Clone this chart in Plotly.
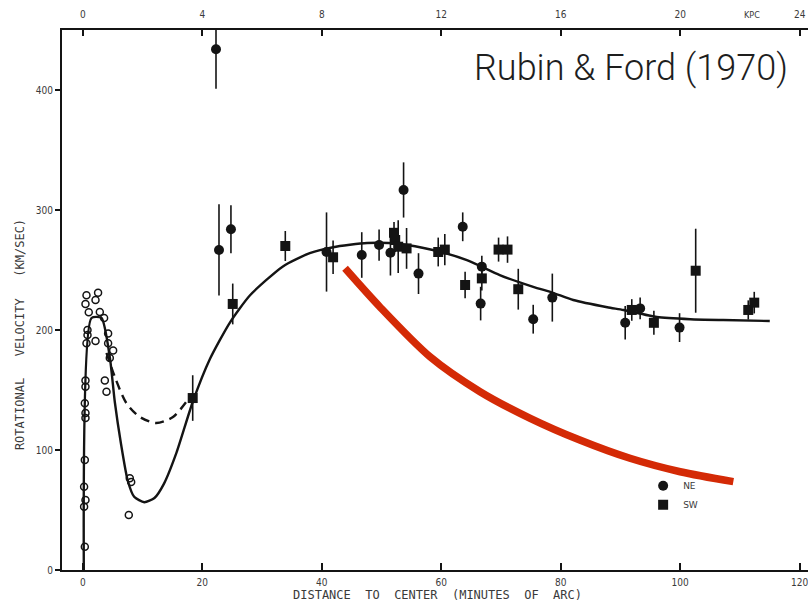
import plotly.graph_objects as go

# ---------------- data ----------------
# solid model curve (arcmin, km/s)
curve_x = [0.17, 1.46, 3.13, 4.52, 5.36, 6.4, 7.5, 8.6, 10.3, 12.0, 13.6, 15.7,
           18.4, 21.3, 24.6, 28.0, 33.5, 38.0, 41.9, 47.6, 53.1, 58.6,
           64.3, 69.8, 75.4, 78.7, 82.1, 87.8, 90.5, 96.1, 101.7, 107.2, 115.0]
curve_v = [0, 210, 210, 177.5, 140, 105, 75, 61, 56.5, 60, 72, 98,
           140, 176, 206, 229, 253, 264, 269, 272.5, 271.7, 266.7,
           258.3, 245.8, 236, 231, 225, 219, 216.7, 210.8, 209, 208.3, 207.5]

# dashed alternative curve
dash_x = [3.97, 5.36, 7.3, 9.55, 12.3, 15.1, 17.9]
dash_v = [181, 161, 139, 127.5, 122.5, 127.5, 144]

# red (Keplerian-like expectation) curve
red_x = [43.9, 49.7, 58.1, 66.5, 74.9, 83.2, 91.6, 100.0, 108.9]
red_v = [251.4, 219.4, 177.8, 148.6, 126.4, 108.3, 93.1, 81.9, 73.6]

# open circles (emission from nucleus region)
open_x = [0.62, 2.56, 2.13, 0.45, 1.0, 3.57, 2.85, 0.79, 0.62, 2.13, 0.79, 4.24,
          4.24, 5.08, 4.52, 0.45, 0.45, 3.69, 3.97, 0.34, 0.45, 0.45, 0.34, 0.22,
          0.45, 0.22, 0.34, 7.87, 8.1, 7.7]
open_v = [229, 231, 225, 221.7, 214.7, 210, 215, 200, 189, 190.8, 195.8, 197,
          189, 183, 176.7, 158, 152.8, 158, 148.6, 139, 130.8, 126.7, 91.7, 69.4,
          58.3, 52.8, 19.4, 76.4, 73.3, 45.8]

# NE (filled circles)
ne_x = [22.3, 22.8, 24.8, 40.8, 46.7, 49.6, 51.5, 53.7, 56.2, 63.6, 66.8, 66.6,
        75.4, 78.6, 90.8, 93.3, 99.9]
ne_v = [434, 266.7, 284, 265, 262.5, 270.8, 264.4, 316.7, 247, 286, 252.8, 222,
        209, 227, 206, 218, 202]
ne_err = [33, 38, 20, 33, 19, 13, 19, 23, 17, 12, 9, 14, 12, 20, 14, 9, 12]

# SW (filled squares)
sw_x = [18.4, 25.1, 33.9, 41.9, 52.1, 52.3, 52.8, 54.2, 59.5, 60.6, 64.0, 66.8,
        69.6, 71.1, 72.9, 91.9, 95.6, 102.6, 111.4, 112.4]
sw_v = [143.3, 221.7, 270, 260.6, 281, 275, 269.4, 268, 265, 267, 237.5, 243,
        267, 267, 234, 216.7, 206, 249.4, 216.7, 222.8]
sw_err = [19, 17, 12.5, 14, 9, 10, 22, 17, 12, 13, 11, 10, 10, 11, 17, 9, 10, 35, 8, 9]

# axis ticks
x_ticks = [0, 20, 40, 60, 80, 100, 120]
y_ticks = [0, 100, 200, 300, 400]
kpc_ticks = [0, 4, 8, 12, 16, 20, 24]

# ---------------- figure ----------------
INK = "#141414"
TXT = "#3a3a3a"
TICKFONT = dict(family="DejaVu Sans Condensed, Liberation Sans Narrow, Arial Narrow, sans-serif",
                size=10, color=TXT)

fig = go.Figure()

fig.add_trace(go.Scatter(x=curve_x, y=curve_v, mode="lines",
                         line=dict(color=INK, width=2.4, shape="spline", smoothing=0.6),
                         showlegend=False, hoverinfo="skip"))
fig.add_trace(go.Scatter(x=dash_x, y=dash_v, mode="lines",
                         line=dict(color=INK, width=2.4, dash="9px,6px", shape="spline", smoothing=0.8),
                         showlegend=False, hoverinfo="skip"))
fig.add_trace(go.Scatter(x=open_x, y=open_v, mode="markers",
                         marker=dict(symbol="circle-open", size=7, color=INK, line=dict(width=1.5, color=INK)),
                         showlegend=False))
fig.add_trace(go.Scatter(x=ne_x, y=ne_v, mode="markers", name="NE",
                         marker=dict(symbol="circle", size=10, color=INK),
                         error_y=dict(type="data", array=ne_err, visible=True,
                                      thickness=1.6, width=0, color=INK)))
fig.add_trace(go.Scatter(x=sw_x, y=sw_v, mode="markers", name="SW",
                         marker=dict(symbol="square", size=10, color=INK),
                         error_y=dict(type="data", array=sw_err, visible=True,
                                      thickness=1.6, width=0, color=INK)))
fig.add_trace(go.Scatter(x=red_x, y=red_v, mode="lines",
                         line=dict(color="#d42a06", width=7.5, shape="spline", smoothing=0.8),
                         showlegend=False, hoverinfo="skip"))
# invisible trace so that the kpc (top) axis is drawn
fig.add_trace(go.Scatter(x=kpc_ticks, y=[0] * len(kpc_ticks), xaxis="x2", mode="markers",
                         marker=dict(opacity=0), showlegend=False, hoverinfo="skip"))

x0, x1 = -3.48, 121.4
fig.update_layout(
    width=808, height=606,
    margin=dict(l=62, r=0, t=30, b=36),
    paper_bgcolor="white", plot_bgcolor="white",
    xaxis=dict(range=[x0, x1], tickvals=x_ticks, showgrid=False, zeroline=False,
               showline=True, linecolor=INK, linewidth=2,
               ticks="inside", ticklen=7, tickwidth=1.5, tickcolor=INK,
               tickfont=TICKFONT, ticklabelstandoff=2, ticklabeloverflow="allow"),
    xaxis2=dict(range=[x0 / 5, x1 / 5], overlaying="x", side="top", tickvals=kpc_ticks,
                showgrid=False, zeroline=False, showline=True, linecolor=INK, linewidth=2,
                ticks="inside", ticklen=6, tickwidth=1.5, tickcolor=INK,
                tickfont=TICKFONT, ticklabelstandoff=6, ticklabeloverflow="allow"),
    yaxis=dict(range=[0, 450], tickvals=y_ticks, showgrid=False, zeroline=False,
               showline=True, linecolor=INK, linewidth=2,
               ticks="outside", ticklen=5, tickwidth=1.5, tickcolor=INK,
               tickfont=TICKFONT),
    legend=dict(x=0.779, y=0.183, xanchor="left", yanchor="top",
                bgcolor="rgba(0,0,0,0)", itemwidth=30,
                font=dict(family="DejaVu Sans, sans-serif", size=9, color=TXT),
                tracegroupgap=0),
    showlegend=True,
)

fig.add_annotation(text="ROTATIONAL   VELOCITY   (KM/SEC)", xref="paper", yref="paper",
                   x=-0.0563, y=0.435, textangle=-90, showarrow=False,
                   xanchor="center", yanchor="middle",
                   font=dict(family="DejaVu Sans Mono, monospace", size=12, color=TXT))
fig.add_annotation(text="DISTANCE  TO  CENTER  (MINUTES  OF  ARC)", xref="paper", yref="paper",
                   x=0.5027, y=-0.0463, showarrow=False, xanchor="center", yanchor="middle",
                   font=dict(family="DejaVu Sans Mono, monospace", size=12, color=TXT))
fig.add_annotation(text="KPC", xref="paper", yref="paper", x=0.925, y=1.0278,
                   showarrow=False, xanchor="center", yanchor="middle",
                   font=dict(family="DejaVu Sans Condensed, Liberation Sans Narrow, sans-serif",
                             size=9, color=TXT))
fig.add_annotation(text="Rubin & Ford (1970)", xref="paper", yref="paper", x=0.976, y=0.9296,
                   showarrow=False, xanchor="right", yanchor="middle",
                   font=dict(family="Helvetica Neue, Roboto, Liberation Sans, sans-serif",
                             size=36, color="#1e1e1e", weight=300))

fig.write_html("out.html")
